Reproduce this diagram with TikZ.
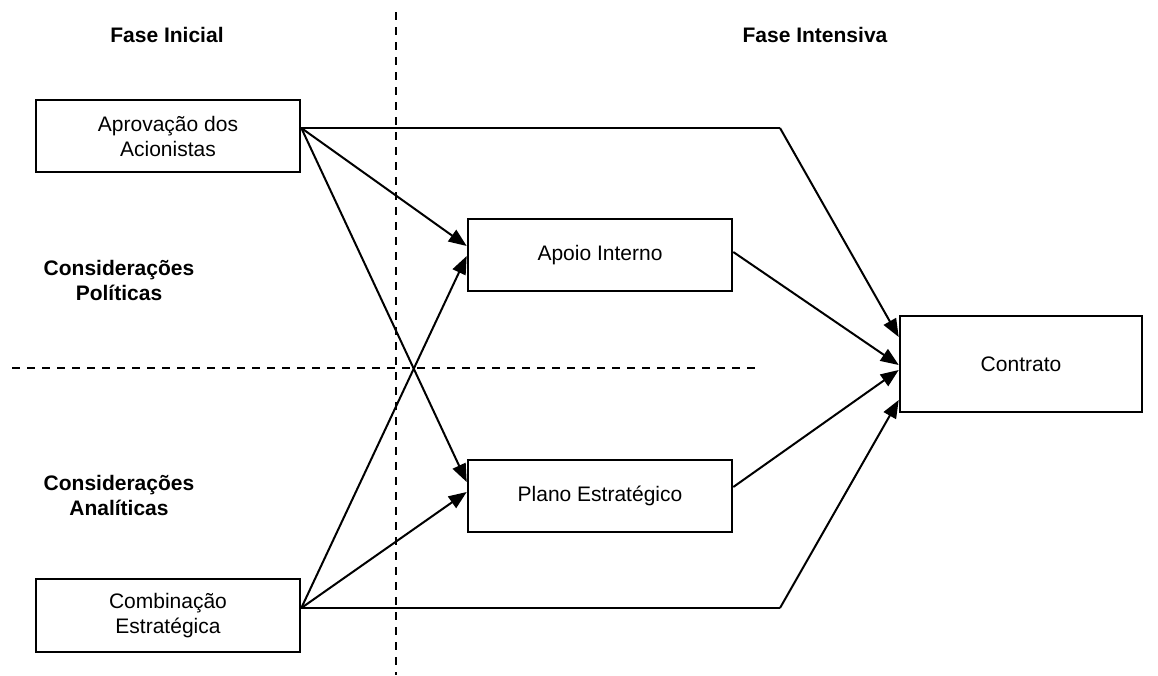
\documentclass[tikz,border=0pt]{standalone}
\usepackage{fontspec}
\setmainfont{Liberation Sans}
\usetikzlibrary{arrows.meta,calc}
\begin{document}
\begin{tikzpicture}[x=1pt,y=-1pt,
  box/.style={draw,line width=2.6pt,minimum width=264pt,minimum height=72pt,inner sep=0pt,align=center,font=\fontsize{21}{25}\selectfont},
  lbl/.style={align=center,font=\fontsize{21}{25}\selectfont\bfseries},
  conn/.style={line width=2pt,-{Triangle[length=18pt,width=14pt]}},
  plain/.style={line width=2pt},
  sep/.style={line width=2pt,dash pattern=on 8pt off 7pt}]
\useasboundingbox (0,0) rectangle (1158,675);
% labels
\node[lbl] (fi) at (167,35) {Fase Inicial};
\node[lbl] (fint) at (815,35) {Fase Intensiva};
\node[lbl] (cp) at (119,280) {Considerações\\Políticas};
\node[lbl] (ca) at (119,495) {Considerações\\Analíticas};
% separators
\coordinate (vtop) at (396,12);
\coordinate (vbot) at (396,675);
\coordinate (hl) at (12,368);
\coordinate (hr) at (757,368);
\draw[sep] (vtop) -- (vbot);
\draw[sep] (hl) -- (hr);
% boxes
\node[box] (apr) at (168,136) {Aprovação dos\\Acionistas};
\node[box,minimum height=73pt] (comb) at (168,615.5) {Combinação\\Estratégica};
\node[box] (apoio) at (600,255) {Apoio Interno};
\node[box] (plano) at (600,496) {Plano Estratégico};
\node[box,minimum width=242pt,minimum height=96pt] (contr) at (1021,364) {Contrato};
% bend points
\coordinate (b1) at (780,128);
\coordinate (b2) at (780,608);
% connectors
\draw[plain] ([yshift=8pt]apr.east) -- (b1);
\draw[conn] (b1) -- ([yshift=27pt]contr.west);
\draw[conn] ([yshift=8pt]apr.east) -- ([yshift=9pt]apoio.west);
\draw[conn] ([yshift=8pt]apr.east) -- ([yshift=14pt]plano.west);
\draw[conn] ([yshift=7.5pt]comb.east) -- ([yshift=-1pt]apoio.west);
\draw[conn] ([yshift=7.5pt]comb.east) -- ([yshift=4pt]plano.west);
\draw[plain] ([yshift=7.5pt]comb.east) -- (b2);
\draw[conn] (b2) -- ([yshift=-36pt]contr.west);
\draw[conn] ([yshift=3pt]apoio.east) -- ([yshift=-1pt]contr.west);
\draw[conn] ([yshift=9pt]plano.east) -- ([yshift=-6pt]contr.west);
\end{tikzpicture}
\end{document}
